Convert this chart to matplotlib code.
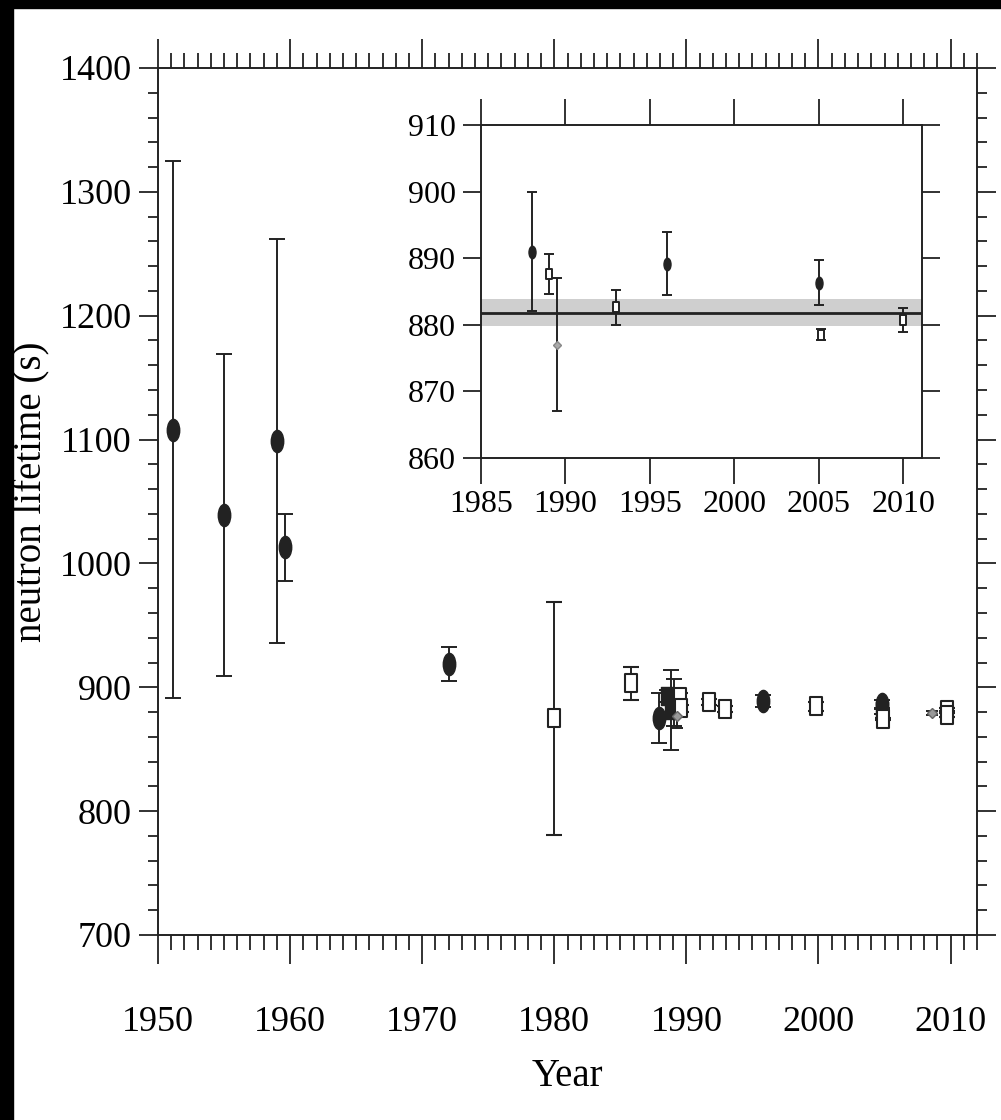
import matplotlib
matplotlib.use("Agg")
import matplotlib.pyplot as plt
from matplotlib.path import Path
from matplotlib.patches import Rectangle
from matplotlib.transforms import Affine2D
from matplotlib.ticker import MultipleLocator

plt.rcParams['font.family'] = ['Liberation Serif', 'DejaVu Serif']

# ---- main panel data (year, lifetime s, error s) ----
circ_year = [1951.1, 1955.0, 1959.0, 1959.6, 1972.0, 1987.9, 1995.8, 2004.8]
circ_tau = [1108.0, 1039.0, 1099.0, 1013.0, 918.7, 875.0, 889.2, 886.3]
circ_err = [217.0, 130.0, 163.0, 27.0, 14.0, 20.3, 4.8, 3.4]

fsq_year = [1988.5, 1988.8, 1989.1, 2004.8]
fsq_tau = [893.0, 881.6, 887.7, 880.5]
fsq_err = [5.0, 32.4, 18.7, 2.0]

osq_year = [1980.0, 1985.8, 1989.5, 1989.6, 1991.7, 1992.9, 1999.8, 2004.9, 2009.7, 2009.7]
osq_tau = [875.0, 903.2, 892.0, 883.0, 888.4, 882.3, 884.5, 874.5, 882.0, 877.5]
osq_err = [94.0, 13.4, 3.0, 3.0, 2.5, 2.5, 3.5, 1.0, 1.5, 1.5]

dia_year = [1989.3, 2008.6]
dia_tau = [877.0, 879.0]
dia_err = [10.0, 1.5]

# ---- inset data ----
in_circ_year = [1988.0, 1996.0, 2005.0]
in_circ_tau = [891.0, 889.2, 886.3]
in_circ_err = [9.0, 4.8, 3.4]

in_sq_year = [1989.0, 1993.0, 2005.1, 2010.0]
in_sq_tau = [887.6, 882.6, 878.5, 880.7]
in_sq_err = [3.0, 2.7, 0.8, 1.8]

in_dia_year = [1989.5]
in_dia_tau = [877.0]
in_dia_err = [10.0]

mean_tau = 881.8
mean_band = 2.0

ink = '#222222'

# markers look squeezed sideways in the original
oval = Path.unit_circle().transformed(Affine2D().scale(0.56, 1.0))
box = Path.unit_rectangle().transformed(Affine2D().translate(-0.5, -0.5).scale(0.65, 1.0))

fig = plt.figure(figsize=(10.01, 11.2), dpi=100)
ax = fig.add_axes([158 / 1001, 1 - 935 / 1120, 819 / 1001, 867 / 1120])

eb = dict(color=ink, elinewidth=1.4, capthick=1.4, ls='none')
ax.errorbar(circ_year, circ_tau, yerr=circ_err, marker=oval, ms=16, mfc=ink, mec=ink,
            capsize=6, **eb)
ax.errorbar(fsq_year, fsq_tau, yerr=fsq_err, marker=box, ms=13, mfc=ink, mec=ink,
            capsize=6, **eb)
ax.errorbar(osq_year, osq_tau, yerr=osq_err, marker=box, ms=13, mfc='white', mec=ink,
            mew=1.5, capsize=6, **eb)
ax.errorbar(dia_year, dia_tau, yerr=dia_err, marker='D', ms=5, mfc='#999999', mec='#666666',
            capsize=4, **eb)

ax.set_xlim(1950, 2012)
ax.set_ylim(700, 1400)
ax.xaxis.set_major_locator(MultipleLocator(10))
ax.xaxis.set_minor_locator(MultipleLocator(1))
ax.yaxis.set_major_locator(MultipleLocator(100))
ax.yaxis.set_minor_locator(MultipleLocator(20))
ax.tick_params(axis='x', which='major', direction='out', length=21, width=1.3, color=ink,
               top=True, bottom=True, labelsize=26, pad=30)
ax.tick_params(axis='x', which='minor', direction='out', length=11, width=1.3, color=ink,
               top=True, bottom=True)
ax.tick_params(axis='y', which='major', direction='out', length=14, width=1.3, color=ink,
               left=True, right=True, labelsize=26, pad=5)
ax.tick_params(axis='y', which='minor', direction='out', length=7, width=1.3, color=ink,
               left=True, right=True)
for s in ax.spines.values():
    s.set_linewidth(1.4)
    s.set_color(ink)
ax.set_xlabel('Year', fontsize=28)
ax.xaxis.set_label_coords(0.5, -0.142)
ax.xaxis.label.set_va('top')
ax.set_ylabel('neutron lifetime (s)', fontsize=28)
ax.yaxis.set_label_coords(-0.131, 0.511)

# ---- inset ----
axi = fig.add_axes([481 / 1001, 1 - 458 / 1120, 441 / 1001, 333 / 1120])
axi.axhspan(mean_tau - mean_band, mean_tau + mean_band, color='#cfcfcf', lw=0, zorder=1)
axi.axhline(mean_tau, color=ink, lw=2, zorder=2)
axi.errorbar(in_circ_year, in_circ_tau, yerr=in_circ_err, marker=oval, ms=9, mfc=ink, mec=ink,
             capsize=3.5, zorder=3, **eb)
axi.errorbar(in_sq_year, in_sq_tau, yerr=in_sq_err, marker=box, ms=7, mfc='white', mec=ink,
             mew=1.4, capsize=3.5, zorder=3, **eb)
axi.errorbar(in_dia_year, in_dia_tau, yerr=in_dia_err, marker='D', ms=4, mfc='#aaaaaa',
             mec='#888888', capsize=3.5, zorder=3, **eb)
axi.set_xlim(1985, 2011.1)
axi.set_ylim(860, 910)
axi.xaxis.set_major_locator(MultipleLocator(5))
axi.yaxis.set_major_locator(MultipleLocator(10))
axi.tick_params(axis='x', direction='out', length=19, width=1.3, color=ink, top=True,
                bottom=True, labelsize=23, pad=4)
axi.tick_params(axis='y', direction='out', length=13, width=1.3, color=ink, left=True,
                right=True, labelsize=23, pad=5)
for s in axi.spines.values():
    s.set_linewidth(1.4)
    s.set_color(ink)

# dark frame left by the screenshot
fig.patches.append(Rectangle((0, 0), 13 / 1001, 1, transform=fig.transFigure, color='black', zorder=10))
fig.patches.append(Rectangle((0, 1 - 8 / 1120), 1, 8 / 1120, transform=fig.transFigure, color='black', zorder=10))

fig.savefig("out.png", dpi=100)
